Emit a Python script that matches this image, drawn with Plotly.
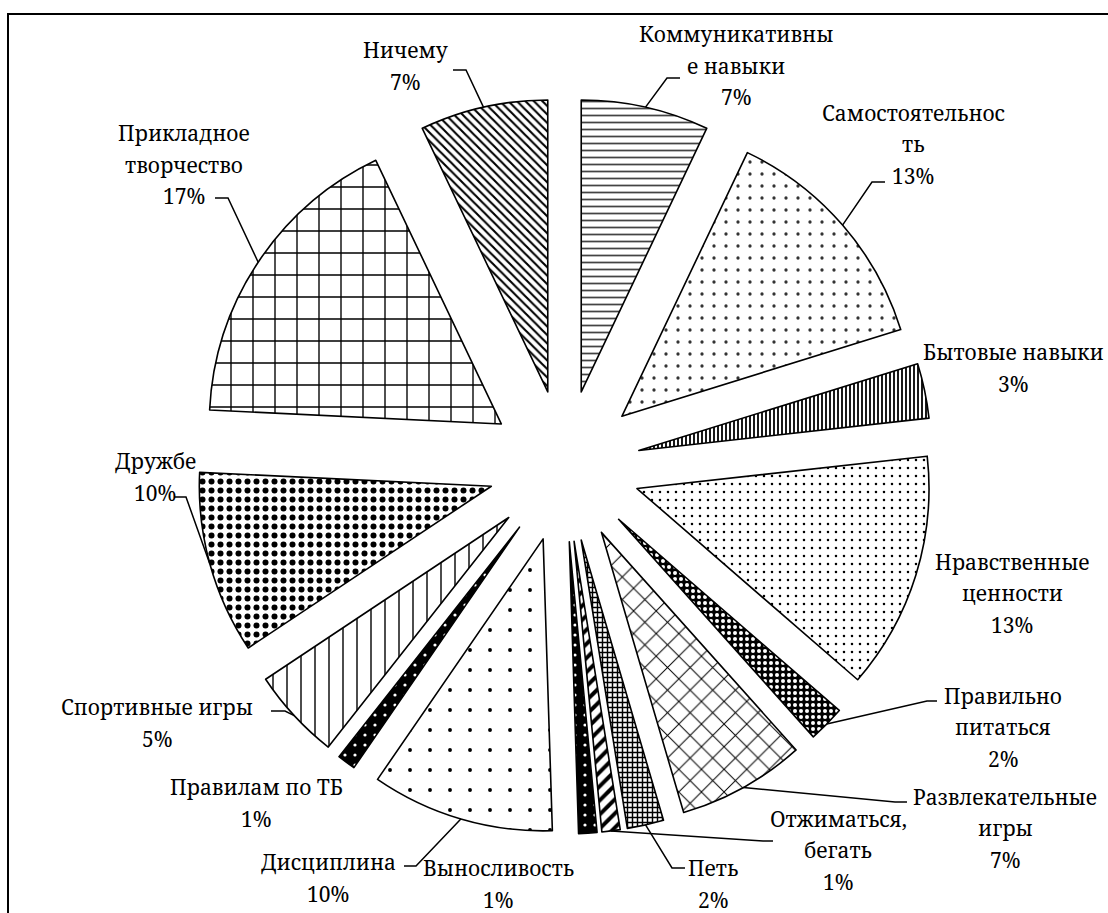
import math
import plotly.graph_objects as go

# ---- data (clockwise from 12 o'clock) ----
categories = [
    "Коммуникативные навыки", "Самостоятельность", "Бытовые навыки",
    "Нравственные ценности", "Правильно питаться", "Развлекательные игры",
    "Петь", "Отжиматься, бегать", "Выносливость", "Дисциплина",
    "Правилам по ТБ", "Спортивные игры", "Дружбе", "Прикладное творчество",
    "Ничему",
]
shares = [7, 13, 3, 13, 2, 7, 2, 1, 1, 10, 1, 5, 10, 17, 7]
label_lines = [
    ["Коммуникативны", "е навыки"], ["Самостоятельнос", "ть"], ["Бытовые навыки"],
    ["Нравственные", "ценности"], ["Правильно", "питаться"], ["Развлекательные", "игры"],
    ["Петь"], ["Отжиматься,", "бегать"], ["Выносливость"], ["Дисциплина"],
    ["Правилам по ТБ"], ["Спортивные игры"], ["Дружбе"], ["Прикладное", "творчество"],
    ["Ничему"],
]

# ---- fill patterns per slice ----
pat_shape = ["-", ".", "|", ".", ".", "x", "+", "/", ".", ".", ".", "|", ".", "+", "\\"]
pat_size = [7, 12, 4, 8, 6, 16, 5, 10, 10, 20, 10, 14, 9, 22, 6]
pat_solid = [0.25, 0.06, 0.45, 0.08, 0.35, 0.12, 0.5, 0.4, 0.08, 0.03, 0.08, 0.1, 0.35, 0.12, 0.35]
pat_fg = ["#000"] * 15
pat_fg[0] = "#444"
pat_fg[1] = "#333"
pat_bg = ["#fff"] * 15
for i in (4, 8, 10):
    pat_fg[i], pat_bg[i] = "#fff", "#000"

# ---- canvas / pie geometry (pixels) ----
W, H = 1108, 913
CX, CY = 564.5, 466.0
R = 292.0
PULL = 0.26
BOX = R * (1 + PULL)
FONT = "Noto Serif, DejaVu Serif, serif"
FONT_SIZE = 21
LINE_STEP = 31.5


def px(x):
    return x / W


def py(y):
    return 1 - y / H


fig = go.Figure(go.Pie(
    labels=categories,
    values=shares,
    sort=False,
    direction="clockwise",
    rotation=0,
    pull=[PULL] * len(shares),
    textinfo="none",
    hoverinfo="label+percent",
    marker=dict(
        colors=pat_bg,
        line=dict(color="black", width=1.6),
        pattern=dict(shape=pat_shape, size=pat_size, solidity=pat_solid,
                     fgcolor=pat_fg, bgcolor=pat_bg, fillmode="replace"),
    ),
    domain=dict(x=[px(CX - BOX), px(CX + BOX)], y=[py(CY + BOX), py(CY - BOX)]),
    showlegend=False,
))

# label block centres and leader-line elbows (pixels)
label_pos = [
    (736, 66), (913, 144), (1013, 368), (1012, 593), (1003, 727),
    (1005, 828), (713, 884), (838, 850), (498, 884), (328, 878),
    (256, 803), (157, 723), (155, 477), (184, 165), (405, 66),
]
leaders = {
    0: [(667, 78), (680, 78)],
    1: [(872, 182), (885, 182)],
    4: [(927, 701), (937, 701)],
    5: [(895, 802), (907, 802)],
    6: [(672, 868), (685, 868)],
    7: [(763, 841), (773, 841)],
    9: [(416, 866), (404, 866)],
    11: [(285, 711), (271, 711)],
    12: [(186, 497), (174, 497)],
    13: [(228, 198), (215, 198)],
    14: [(466, 70), (453, 70)],
}

total = sum(shares)
cum = 0.0
shapes = []
annotations = []
for i, v in enumerate(shares):
    mid = (cum + v / 2) / total * 2 * math.pi
    cum += v
    dx, dy = math.sin(mid), -math.cos(mid)
    ex = CX + dx * R * (1 + PULL)
    ey = CY + dy * R * (1 + PULL)
    if i in leaders:
        pts = [(ex, ey)] + leaders[i]
        path = "M " + " L ".join(f"{px(a):.5f},{py(b):.5f}" for a, b in pts)
        shapes.append(dict(type="path", path=path, xref="paper", yref="paper",
                           line=dict(color="black", width=1.5)))
    lines = label_lines[i] + [f"{v}%"]
    lx, ly = label_pos[i]
    n = len(lines)
    for k, line in enumerate(lines):
        yk = ly + (k - (n - 1) / 2) * LINE_STEP
        annotations.append(dict(
            x=px(lx), y=py(yk), xref="paper", yref="paper",
            text=line, showarrow=False,
            xanchor="center", yanchor="middle", align="center",
            font=dict(family=FONT, size=FONT_SIZE, color="black"),
        ))

# chart-area frame
shapes.append(dict(type="rect", xref="paper", yref="paper",
                   x0=px(8), y0=-0.05, x1=1.05, y1=py(14),
                   line=dict(color="black", width=2), fillcolor="rgba(0,0,0,0)"))

fig.update_layout(
    width=W, height=H,
    margin=dict(l=0, r=0, t=0, b=0),
    paper_bgcolor="white", plot_bgcolor="white",
    font=dict(family=FONT),
    shapes=shapes, annotations=annotations,
)

fig.write_html("out.html")
